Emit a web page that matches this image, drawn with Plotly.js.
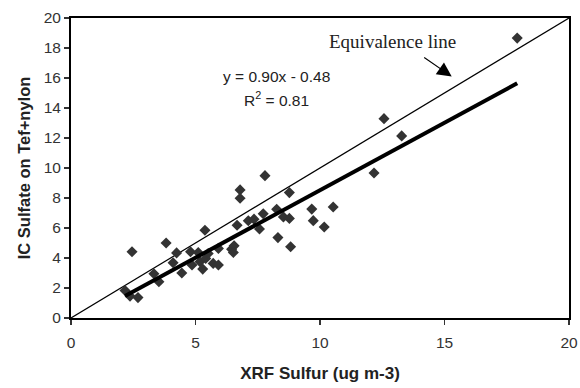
<!DOCTYPE html>
<html>
<head>
<meta charset="utf-8">
<script src="https://cdn.plot.ly/plotly-3.0.1.min.js"></script>
<style>html,body{margin:0;padding:0;background:#fff;}#chart{width:580px;height:388px;}</style>
</head>
<body>
<div id="chart"></div>
<script>
// XRF sulfur (x) vs IC sulfate on Tef+nylon (y)
const xrfSulfur = [2.17, 2.37, 2.69, 2.45, 3.33, 3.53, 3.82, 4.10, 4.24, 4.45,
  4.80, 4.86, 5.11, 5.18, 5.29, 5.38, 5.41, 5.51, 5.71, 5.92,
  5.92, 6.45, 6.55, 6.52, 6.67, 6.79, 6.79, 7.12, 7.35, 7.57,
  7.72, 7.79, 8.26, 8.31, 8.53, 8.77, 8.77, 8.82, 9.67, 9.73,
  10.17, 10.53, 12.17, 12.57, 13.28, 17.92];
const icSulfate = [1.83, 1.46, 1.36, 4.42, 2.95, 2.42, 5.00, 3.68, 4.34, 3.00,
  4.42, 3.53, 4.37, 3.75, 3.26, 5.85, 3.97, 4.30, 3.64, 3.53,
  4.64, 4.59, 4.81, 4.37, 6.18, 8.54, 7.98, 6.48, 6.59, 5.93,
  6.95, 9.49, 7.25, 5.36, 6.74, 8.36, 6.64, 4.75, 7.26, 6.49,
  6.07, 7.40, 9.67, 13.29, 12.14, 18.66];
const fitCoefficients = [0.90, -0.48]; // slope, intercept
const rSquared = [0.81];
const equivalenceRange = [0, 20];
const xTicks = [0, 5, 10, 15, 20];
const yTicks = [0, 2, 4, 6, 8, 10, 12, 14, 16, 18, 20];

const xMin = Math.min(...xrfSulfur), xMax = Math.max(...xrfSulfur);
const fitX = [xMin, xMax];
const fitY = fitX.map(v => fitCoefficients[0] * v + fitCoefficients[1]);

const traces = [
  {x: equivalenceRange, y: equivalenceRange, mode: 'lines', type: 'scatter',
   line: {color: '#000', width: 1.2}, hoverinfo: 'skip'},
  {x: xrfSulfur, y: icSulfate, mode: 'markers', type: 'scatter',
   marker: {symbol: 'diamond', size: 8.5, color: '#333333', line: {width: 0}}},
  {x: fitX, y: fitY, mode: 'lines', type: 'scatter',
   line: {color: '#000', width: 4}, hoverinfo: 'skip'}
];

const fmt = v => v.toFixed(2);
const eqText = 'y = ' + fmt(fitCoefficients[0]) + 'x - ' + fmt(Math.abs(fitCoefficients[1]));
const rText = 'R<sup>2</sup> = ' + fmt(rSquared[0]);

const sans = 'Liberation Sans, Arial, sans-serif';
const tickFont = {family: sans, size: 15.5, color: '#333'};
const layout = {
  width: 580, height: 388,
  margin: {l: 71, r: 11, t: 18, b: 70},
  paper_bgcolor: '#fff', plot_bgcolor: '#fff',
  showlegend: false,
  xaxis: {
    range: [0, 20], tickvals: xTicks, showgrid: false, zeroline: false,
    showline: true, linecolor: '#000', linewidth: 2, mirror: true,
    ticks: 'outside', ticklen: 5, tickwidth: 1.5, tickcolor: '#333',
    tickfont: tickFont, ticklabelstandoff: 4,
    title: {text: '<b>XRF Sulfur (ug m-3)</b>', font: {family: sans, size: 17, color: '#222'}, standoff: 18}
  },
  yaxis: {
    range: [0, 20], tickvals: yTicks, showgrid: false, zeroline: false,
    showline: true, linecolor: '#000', linewidth: 2, mirror: true,
    ticks: 'outside', ticklen: 5, tickwidth: 1.5, tickcolor: '#333',
    tickfont: tickFont,
    title: {text: '<b>IC Sulfate on Tef+nylon</b>', font: {family: sans, size: 16.5, color: '#222'}, standoff: 9}
  },
  annotations: [
    {x: 8.27, y: 16.09, xref: 'x', yref: 'y', text: eqText, showarrow: false,
     font: {family: sans, size: 15.5, color: '#222'}},
    {x: 8.27, y: 14.6, xref: 'x', yref: 'y', text: rText, showarrow: false,
     font: {family: sans, size: 15.5, color: '#222'}},
    {x: 12.93, y: 18.45, xref: 'x', yref: 'y', text: 'Equivalence line', showarrow: false,
     font: {family: 'Liberation Serif, Times New Roman, serif', size: 19, color: '#222'}},
    {x: 15.29, y: 16.1, xref: 'x', yref: 'y', text: '', showarrow: true,
     ax: -29, ay: -20, arrowhead: 2, arrowsize: 2.4, arrowwidth: 1.2, arrowcolor: '#000'}
  ]
};

Plotly.newPlot('chart', traces, layout, {displayModeBar: false, staticPlot: true});
</script>
</body>
</html>
